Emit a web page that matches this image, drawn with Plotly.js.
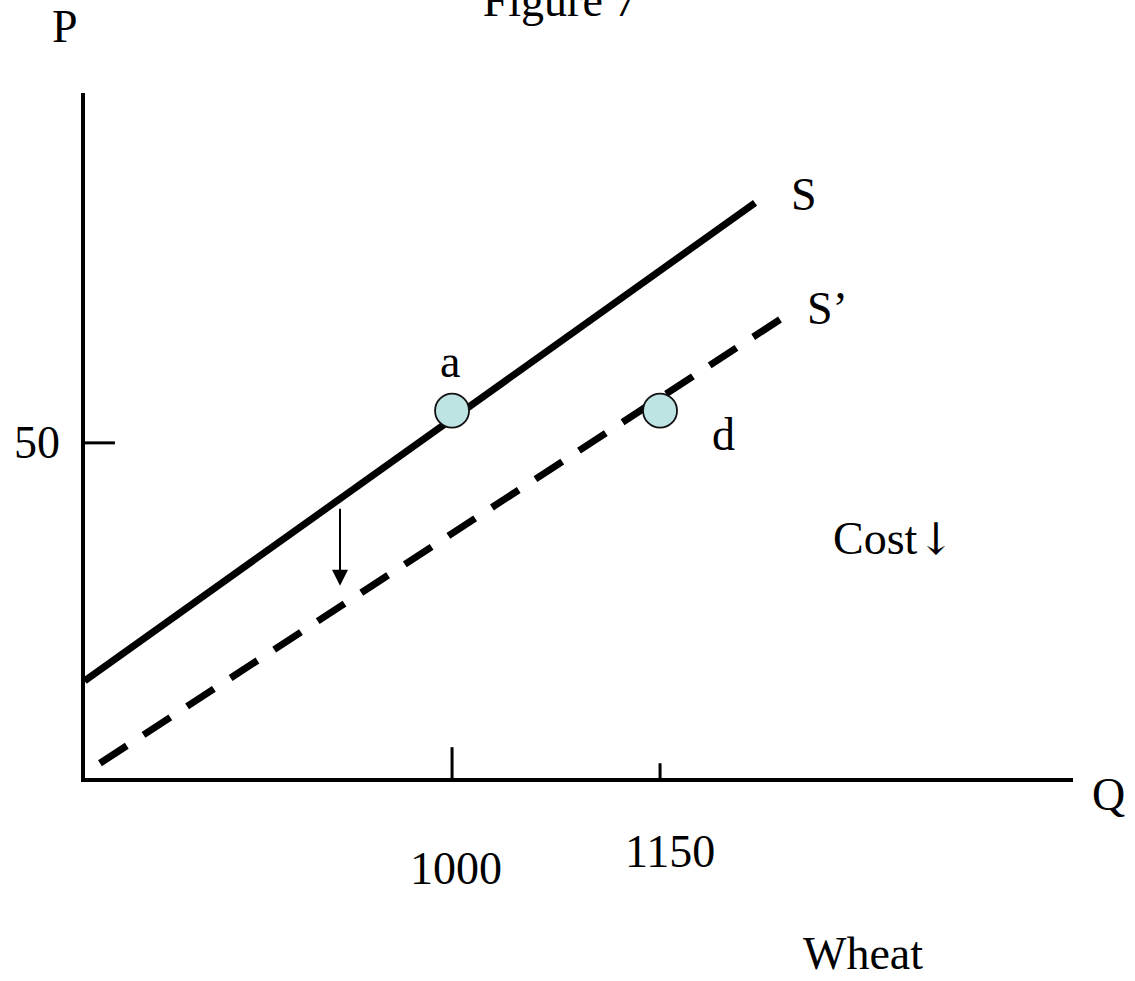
<!DOCTYPE html>
<html>
<head>
<meta charset="utf-8">
<script src="https://cdn.plot.ly/plotly-3.0.1.min.js"></script>
<style>html,body{margin:0;padding:0;background:#fff;}#chart{width:1135px;height:981px;}</style>
</head>
<body>
<div id="chart"></div>
<script>
// ---- data ----
const qTicks = [1000, 1150];
const qTickLabels = ['1000', '1150'];
const pTicks = [50];
const pTickLabels = ['50'];

const supplyX = [735, 1218.5];
const supplyY = [14.5, 85.8];
const supplyNewX = [746.1, 1239.4];
const supplyNewY = [2.2, 68.8];

const pointX = [1000, 1150];
const pointY = [54.8, 54.8];
const pointLabels = ['a', 'd'];
const pointLabelX = [998.6, 1195.4];
const pointLabelY = [62.2, 51.3];

const curveLabels = ['S', 'S’'];
const curveLabelX = [1253.8, 1270.4];
const curveLabelY = [87.0, 70.1];

const shiftArrowX = 919.2;
const shiftArrowFrom = 40.4;
const shiftArrowTo = 28.7;

const costWord = 'Cost';
const costArrow = '↓';
const costX = 1318;
const costY = 35.8;

const xRange = [735.3, 1447.8];
const yRange = [0, 102.2];

// ---- drawing ----
const FONT = '"Liberation Serif", "Times New Roman", serif';
const FS = 46;

const traces = [
  {x: supplyX, y: supplyY, mode: 'lines', line: {color: '#000', width: 7}, hoverinfo: 'skip'},
  {x: supplyNewX, y: supplyNewY, mode: 'lines', line: {color: '#000', width: 7, dash: '32px,20px'}, hoverinfo: 'skip'},
  {x: pointX, y: pointY, mode: 'markers', marker: {size: 34, color: '#bde3e3', line: {color: '#111', width: 1.8}}, hoverinfo: 'skip'}
];

const annotations = [];
const txt = (text, x, y, xref, yref, extra) => Object.assign({
  text: text, x: x, y: y, xref: xref, yref: yref, showarrow: false,
  xanchor: 'center', yanchor: 'middle', font: {family: FONT, size: FS, color: '#000'}
}, extra || {});

pointLabels.forEach((t, i) => annotations.push(txt(t, pointLabelX[i], pointLabelY[i], 'x', 'y')));
curveLabels.forEach((t, i) => annotations.push(txt(t, curveLabelX[i], curveLabelY[i], 'x', 'y')));
annotations.push(txt(costWord + '<span style="font-family:\'DejaVu Serif\';font-size:44px">' + costArrow + '</span>', costX, costY, 'x', 'y'));

const qLabelShift = [[4, -90], [10, -73]];
qTicks.forEach((v, i) => annotations.push(txt(qTickLabels[i], v, 0, 'x', 'y', {xshift: qLabelShift[i][0], yshift: qLabelShift[i][1]})));
pTicks.forEach((v, i) => annotations.push(txt(pTickLabels[i], -0.0486, v, 'paper', 'y')));

annotations.push(txt('P', -0.0202, 1.0964, 'paper', 'paper'));
annotations.push(txt('Q', 1.0364, -0.0234, 'paper', 'paper'));
annotations.push(txt('Wheat', 0.7874, -0.2555, 'paper', 'paper'));

annotations.push({
  x: shiftArrowX, y: shiftArrowTo, ax: shiftArrowX, ay: shiftArrowFrom,
  xref: 'x', yref: 'y', axref: 'x', ayref: 'y', text: '',
  showarrow: true, arrowhead: 2, arrowsize: 1.6, arrowwidth: 2, arrowcolor: '#000'
});

const shapes = [];
const qTickSpan = [[0, 4.6], [-2.4, 2.2]];
qTicks.forEach((v, i) => shapes.push({type: 'line', xref: 'x', yref: 'y', x0: v, x1: v,
  y0: qTickSpan[i][0], y1: qTickSpan[i][1], line: {color: '#000', width: 3}}));
pTicks.forEach(v => shapes.push({type: 'line', xref: 'x', yref: 'y', x0: xRange[0], x1: xRange[0] + 21.6,
  y0: v, y1: v, line: {color: '#000', width: 3}}));

const layout = {
  width: 1135, height: 981,
  margin: {l: 85, r: 62, t: 93, b: 203},
  paper_bgcolor: '#fff', plot_bgcolor: '#fff',
  showlegend: false,
  title: {text: 'Figure 7', x: 0.4934, xanchor: 'center', xref: 'container', y: 1, yref: 'container', yanchor: 'middle',
    font: {family: FONT, size: FS, color: '#000'}},
  xaxis: {range: xRange, showgrid: false, zeroline: false, showticklabels: false, ticks: '',
    showline: true, linecolor: '#000', linewidth: 4, fixedrange: true},
  yaxis: {range: yRange, showgrid: false, zeroline: false, showticklabels: false, ticks: '',
    showline: true, linecolor: '#000', linewidth: 4, fixedrange: true},
  annotations: annotations,
  shapes: shapes
};

Plotly.newPlot('chart', traces, layout, {displayModeBar: false, staticPlot: true});
</script>
</body>
</html>
